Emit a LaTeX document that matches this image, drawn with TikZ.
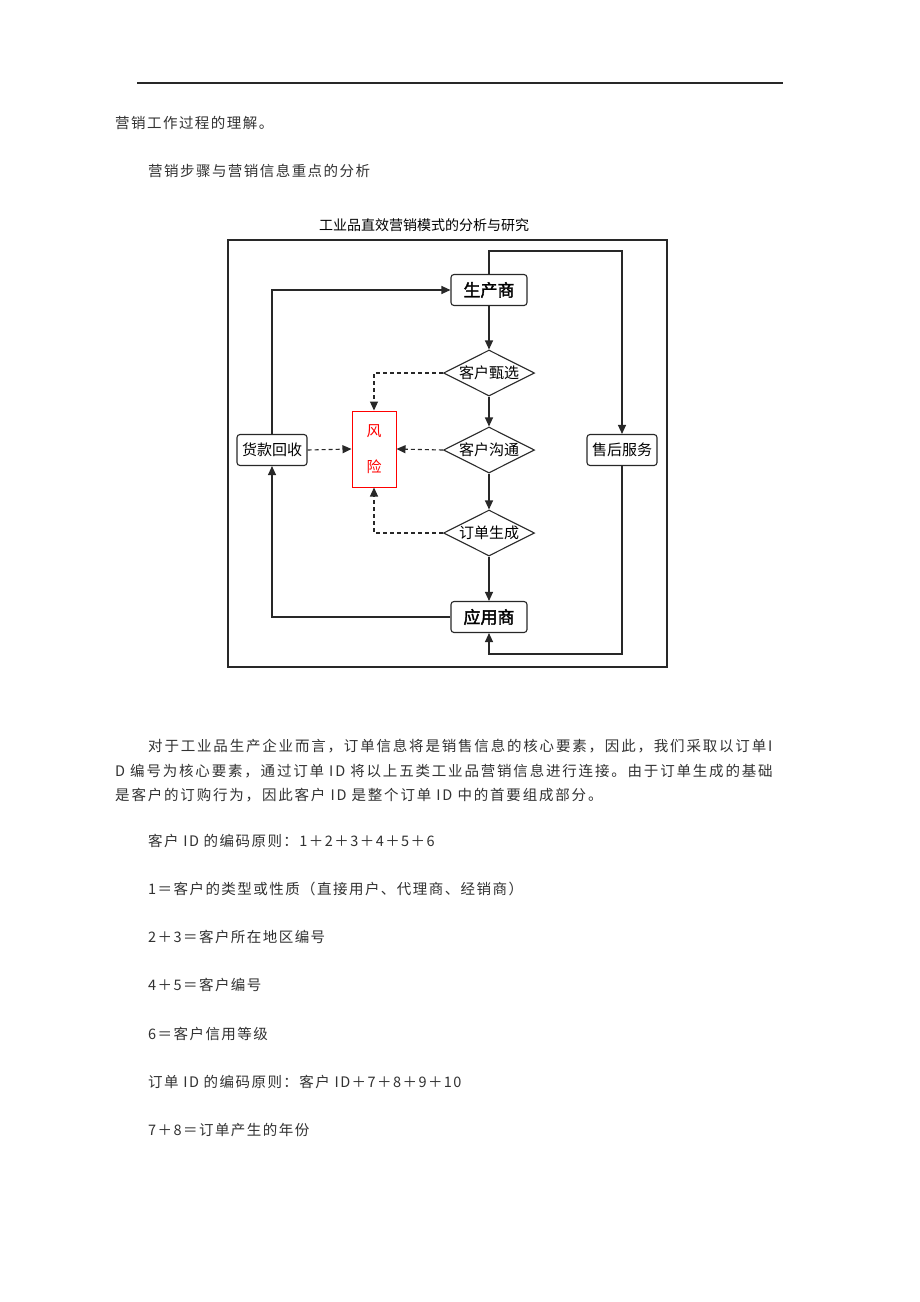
\documentclass[tikz,border=0pt]{standalone}
\usepackage{fontspec}
\newfontfamily\cjk[AutoFakeBold=2]{Noto Sans CJK SC}
\newfontfamily\cjkbody[LetterSpace=10]{Noto Sans CJK SC}
\newfontfamily\cjkwide[LetterSpace=12.5]{Noto Sans CJK SC}
\usetikzlibrary{arrows.meta,shapes.geometric,positioning}

\definecolor{linegray}{RGB}{40,40,40}
\definecolor{textgray}{RGB}{50,50,50}

\tikzset{
  box/.style={draw=linegray,line width=1.1pt,rounded corners=3pt,minimum width=70pt,minimum height=31pt,inner sep=1pt,font=\cjk\fontsize{15}{15}\selectfont},
  mainbox/.style={box,minimum width=76pt,font=\cjk\bfseries\fontsize{17}{17}\selectfont},
  decision/.style={draw=linegray,line width=1.1pt,diamond,aspect=2,minimum width=91pt,minimum height=46pt,inner sep=0pt,font=\cjk\fontsize{15}{15}\selectfont},
  riskbox/.style={draw=red,line width=1pt,minimum width=44pt,minimum height=76pt,inner sep=0pt,text=red,align=center,font=\cjk\fontsize{15}{36}\selectfont},
  flow/.style={draw=linegray,line width=1.1pt,-{Triangle[length=9pt,width=8pt]}},
  riskflow/.style={flow,dash pattern=on 4pt off 3pt},
  body/.style={anchor=base west,inner sep=0pt,text=textgray,font=\cjkbody\fontsize{14.5}{14.5}\selectfont},
  widebody/.style={body,font=\cjkwide\fontsize{14.5}{14.5}\selectfont}
}

\begin{document}
\begin{tikzpicture}[x=1pt,y=-1pt]

% Page
\fill[white] (0,0) rectangle (920,1302);
\useasboundingbox (0,0) rectangle (920,1302);
\draw[linegray,line width=1.8pt] (137,83) -- (783,83);

% Text above the chart
\node[body] (intro) at (115,128) {营销工作过程的理解。};
\node[body] (heading) at (148,176) {营销步骤与营销信息重点的分析};

% Chart frame and title
\node[font=\cjk\fontsize{14}{14}\selectfont,text=black] (title) at (424,225) {工业品直效营销模式的分析与研究};
\draw[linegray,line width=1.1pt] (228,240) rectangle (667,667);

% Main chain
\node[mainbox] (maker) at (489,290) {生产商};
\node[decision] (select) at (489,373) {客户甄选};
\node[decision] (talk) at (489,450) {客户沟通};
\node[decision] (order) at (489,533) {订单生成};
\node[mainbox] (user) at (489,617) {应用商};

% Side boxes
\node[box] (payment) at (272,450) {货款回收};
\node[box] (service) at (622,450) {售后服务};
\node[riskbox] (risk) at (374,449) {风\\险};

% Turning points
\coordinate (topturn) at (489,251);
\coordinate (botturn) at (489,654);

% Flow down the chain
\draw[flow] (maker) -- (select);
\draw[flow] (select) -- (talk);
\draw[flow] (talk) -- (order);
\draw[flow] (order) -- (user);

% Outer loops
\draw[flow] (maker.north) -- (topturn) -| (service.north);
\draw[flow] (service.south) |- (botturn) -- (user.south);
\draw[flow] (user.west) -| (payment.south);
\draw[flow] (payment.north) |- (maker.west);

% Risk links
\draw[riskflow] (select.west) -| (risk.north);
\draw[riskflow] (talk.west) -- (risk.east);
\draw[riskflow] (order.west) -| (risk.south);
\draw[riskflow] (payment.east) -- (risk.west);

% Text below the chart
\node[widebody] (para1) at (148,751) {对于工业品生产企业而言，订单信息将是销售信息的核心要素，因此，我们采取以订单I};
\node[widebody] (para2) at (115,776) {D 编号为核心要素，通过订单 ID 将以上五类工业品营销信息进行连接。由于订单生成的基础};
\node[widebody] (para3) at (115,800) {是客户的订购行为，因此客户 ID 是整个订单 ID 中的首要组成部分。};
\node[body] (rule1) at (148,846) {客户 ID 的编码原则：1＋2＋3＋4＋5＋6};
\node[body] (code1) at (148,894) {1＝客户的类型或性质（直接用户、代理商、经销商）};
\node[body] (code23) at (148,942) {2＋3＝客户所在地区编号};
\node[body] (code45) at (148,990) {4＋5＝客户编号};
\node[body] (code6) at (148,1039) {6＝客户信用等级};
\node[body] (rule2) at (148,1087) {订单 ID 的编码原则：客户 ID＋7＋8＋9＋10};
\node[body] (code78) at (148,1135) {7＋8＝订单产生的年份};
\end{tikzpicture}
\end{document}
